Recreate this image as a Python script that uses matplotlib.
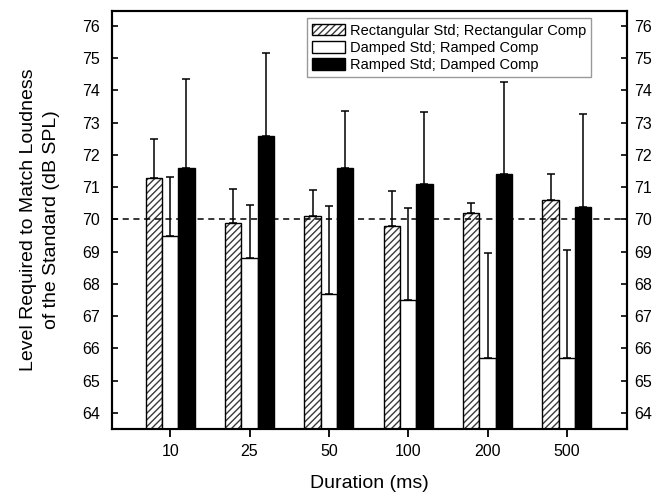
import matplotlib
matplotlib.use("Agg")
import matplotlib.pyplot as plt
import numpy as np
from matplotlib.patches import Patch
from matplotlib.legend_handler import HandlerTuple

plt.rcParams['font.family'] = ['Liberation Sans', 'DejaVu Sans']
plt.rcParams['hatch.linewidth'] = 1.0

durations = ['10', '25', '50', '100', '200', '500']
series_names = ['Rectangular Std; Rectangular Comp',
                'Damped Std; Ramped Comp',
                'Ramped Std; Damped Comp']

# mean levels (dB SPL) and upper error (dB)
rect_mean = [71.3, 69.9, 70.1, 69.8, 70.2, 70.6]
rect_err = [1.2, 1.05, 0.82, 1.07, 0.3, 0.8]
damped_mean = [69.5, 68.8, 67.7, 67.5, 65.7, 65.7]
damped_err = [1.83, 1.65, 2.71, 2.86, 3.27, 3.35]
ramped_mean = [71.6, 72.6, 71.6, 71.1, 71.4, 70.4]
ramped_err = [2.77, 2.56, 1.76, 2.22, 2.85, 2.88]

standard_level = 70
y_ticks = list(range(64, 77))

fig = plt.figure(figsize=(6.54, 4.94), dpi=100)
ax = fig.add_axes([0.1705, 0.1316, 0.7885, 0.8471])

x = np.arange(len(durations))
w = 0.205
hatch_gray = '#3a3a3a'
err_kw = dict(ecolor='black', elinewidth=1.1, capthick=1.1)

base = 60
# hatched bars: gray hatch first, black outline on top
ax.bar(x - w, np.array(rect_mean) - base, w, bottom=base, color='white',
       edgecolor=hatch_gray, linewidth=0, hatch='/////', zorder=2)
ax.bar(x - w, np.array(rect_mean) - base, w, bottom=base, fill=False,
       edgecolor='black', linewidth=1.0, zorder=3)
ax.bar(x, np.array(damped_mean) - base, w, bottom=base, color='white',
       edgecolor='black', linewidth=1.0, zorder=3)
ax.bar(x + w, np.array(ramped_mean) - base, w, bottom=base, color='black',
       edgecolor='black', linewidth=1.0, zorder=3)

ax.errorbar(x - w, rect_mean, yerr=[np.zeros(6), rect_err], fmt='none',
            capsize=3.2, zorder=1, **err_kw)
ax.errorbar(x, damped_mean, yerr=[np.zeros(6), damped_err], fmt='none',
            capsize=3.2, zorder=1, **err_kw)
ax.errorbar(x + w, ramped_mean, yerr=[np.zeros(6), ramped_err], fmt='none',
            capsize=3.2, zorder=1, **err_kw)

ax.axhline(standard_level, color='black', linestyle=(0, (4, 3)),
           linewidth=1.1, zorder=4)

ax.set_xlim(-0.74, 5.76)
ax.set_ylim(63.5, 76.48)
ax.set_xticks(x)
ax.set_xticklabels(durations)
ax.set_yticks(y_ticks)

ax.tick_params(axis='y', direction='in', length=4, width=1.2,
               left=True, right=False, labelsize=11.5, pad=8.5)
ax.tick_params(axis='x', direction='out', length=6, width=1.3,
               labelsize=11.5, pad=5)
for s in ax.spines.values():
    s.set_linewidth(1.5)

# right-hand copy of the level scale
ax_r = ax.twinx()
ax_r.set_ylim(ax.get_ylim())
ax_r.set_yticks(y_ticks)
ax_r.tick_params(axis='y', direction='in', length=4, width=1.2,
                 labelsize=11.5, pad=5)
for s in ax_r.spines.values():
    s.set_linewidth(1.5)

ax.set_xlabel('Duration (ms)', fontsize=14, labelpad=11)
ax.set_ylabel('Level Required to Match Loudness\nof the Standard (dB SPL)',
              fontsize=14, labelpad=16, linespacing=1.45)

h_rect = (Patch(facecolor='white', edgecolor=hatch_gray, linewidth=0, hatch='/////'),
          Patch(fill=False, edgecolor='black', linewidth=1.0))
h_damp = Patch(facecolor='white', edgecolor='black', linewidth=1.0)
h_ramp = Patch(facecolor='black', edgecolor='black', linewidth=1.0)
leg = ax_r.legend([h_rect, h_damp, h_ramp], series_names,
                  handler_map={tuple: HandlerTuple(ndivide=1, pad=0)},
                  loc='upper right', bbox_to_anchor=(591 / 654, 1 - 18.5 / 494),
                  bbox_transform=fig.transFigure, borderaxespad=0,
                  fontsize=10.5, frameon=True, fancybox=False,
                  handlelength=2.2, handleheight=0.85, handletextpad=0.35,
                  labelspacing=0.22, borderpad=0.35)
leg.get_frame().set_edgecolor('#808080')
leg.get_frame().set_linewidth(1.0)

fig.savefig('out.png', dpi=100)
